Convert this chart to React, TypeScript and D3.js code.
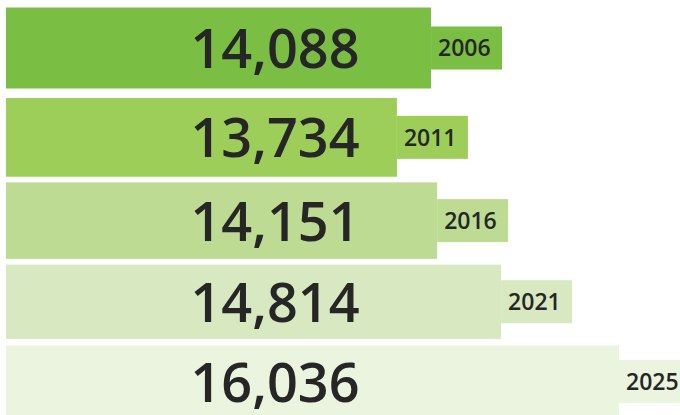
import React from "react";
import * as d3 from "d3";

const years = ["2006", "2011", "2016", "2021", "2025"];
const values = [14088, 13734, 14151, 14814, 16036];
const colors = ["#7abe43", "#9dce5a", "#bedb94", "#d8e8c0", "#ebf4de"];

const W = 680;
const H = 415;

export default function App() {
  const x = d3.scaleLinear().domain([9620, 16036]).range([0, 619]);
  // row centres, gently tightening toward the bottom as in the reference
  const yc = d3.scalePow().exponent(0.95).domain([0, years.length - 1]).range([48, 381.5]);
  const bhs = d3.scaleLinear().domain([0, years.length - 1]).range([81, 72]);
  const fmt = d3.format(",");
  const left = 6;
  const tabW = 71;
  const tabH = 43;
  return (
    <svg
      width={W}
      height={H}
      style={{ position: "absolute", left: 0, top: 0, display: "block" }}
      fontFamily="'Open Sans', 'DejaVu Sans', sans-serif"
    >
      {years.map((yr, i) => {
        const cy = yc(i);
        const bh = bhs(i);
        const xe = x(values[i]);
        return (
          <g key={yr}>
            <rect x={left} y={cy - bh / 2} width={xe - left} height={bh} fill={colors[i]} />
            <rect x={xe} y={cy - tabH / 2} width={tabW} height={tabH} fill={colors[i]} />
            <text
              x={275}
              y={cy + 20}
              textAnchor="middle"
              fontSize={54}
              fontWeight={600}
              fill="#262626"
            >
              {fmt(values[i])}
            </text>
            <text x={xe + 7} y={cy + 8.3} fontSize={23} fontWeight={600} fill="#262626">
              {yr}
            </text>
          </g>
        );
      })}
    </svg>
  );
}
